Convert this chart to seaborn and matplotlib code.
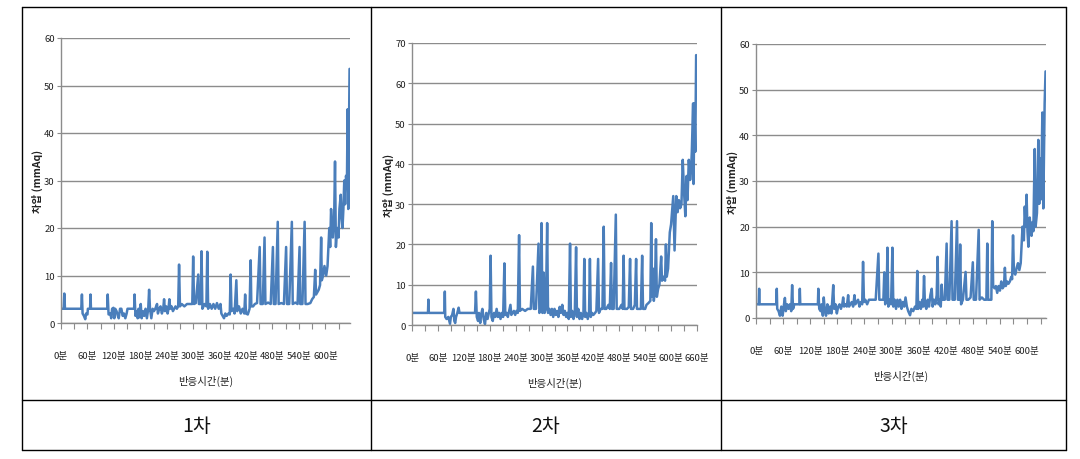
import matplotlib
matplotlib.use("Agg")
import matplotlib.pyplot as plt
import seaborn as sns
import pandas as pd
from matplotlib.lines import Line2D

# ---------------- data (minutes, differential pressure mmAq) ----------------
t1 = [0, 6, 7.5, 9, 46, 47.5, 49, 52, 55, 57, 60, 61, 66, 67, 68, 105, 106, 108, 112, 114,
      116, 119, 121, 123, 126, 129, 131, 134, 137, 140, 143, 146, 149, 151, 166, 167, 169, 172,
      174, 176, 178, 181, 183, 186, 189, 192, 195, 198, 200, 202, 205, 208, 211, 214, 218, 220,
      223, 226, 229, 232, 234, 236, 239, 242, 244, 246, 248, 251, 254, 257, 260, 263, 266, 268,
      270, 274, 280, 286, 292, 298, 300, 302, 306, 311.5, 313, 317, 319, 321, 326, 330, 332,
      334, 338, 342, 346, 350, 354, 358, 362, 364, 367, 370, 373, 376, 380, 383, 385, 387, 391,
      394, 398, 400, 404, 408, 412, 416, 418, 420, 424, 428, 430.6, 432, 436, 440, 445, 451,
      453, 458, 462, 464, 470, 476, 481, 483, 487, 492, 494, 500, 506, 511, 513, 518, 524, 526,
      532, 537, 541.5, 543, 548, 553, 555, 560, 566, 570, 574, 577, 579, 582, 585, 588, 590.5,
      592, 595, 598, 602, 605, 609, 611, 613, 617, 620, 622, 624, 626, 628, 630, 632, 635, 637,
      639, 641, 643, 645, 647, 649, 650.6, 652, 655]
v1 = [3, 3, 6.2, 3, 3, 6, 2, 1.5, 0.8, 2, 1.8, 3, 3, 6, 3, 3, 6, 1.8, 2, 1,
      3, 3.2, 1, 3, 2.5, 1.5, 1, 3, 3, 1.5, 2, 1, 2, 3, 3, 6, 1.5, 2.5,
      1, 3, 1.2, 4, 1, 2.5, 1.5, 3, 1, 3, 7, 3, 1, 3, 2.5, 3, 4, 2,
      3, 3.5, 2, 3, 5, 2.5, 3.5, 2, 3, 5, 3, 3.5, 2.5, 3, 3.5, 3, 3.5, 12.3,
      3.5, 4, 3.5, 4, 4, 4, 14, 4, 4.2, 10.2, 4, 4, 15.1, 3, 4, 3.5, 15,
      3, 4, 3, 4, 3, 4.2, 3, 4, 2, 1.5, 1, 2, 1.5, 2, 1.8, 10.2, 2.5, 3,
      2, 9, 2.5, 3.5, 2, 3, 2, 6, 2, 1.8, 3, 13.2, 3.5, 3.5, 4, 4.2, 16,
      4, 4, 18, 4, 4.3, 4, 16, 4, 4, 21.3, 4, 4.2, 4, 16, 4, 4, 21.3, 4,
      4.3, 4, 16, 4, 4, 21.3, 4, 4, 4.2, 5, 5.5, 11.2, 6, 6.5, 7, 8, 18,
      9, 10, 12, 10, 12, 20, 16, 24, 18, 22, 34, 16, 19, 20, 18, 24, 27, 22,
      20, 24, 30, 25, 31, 29, 45, 24, 53.5]

t2 = [0, 37, 38, 39, 75, 76, 77, 80, 84, 88, 90, 93, 96, 98, 100, 102, 105, 108, 110, 146,
      148, 150, 153, 155, 158, 160, 163, 166, 169, 172, 175, 178, 180, 182, 184, 187, 190, 193,
      196, 199, 202, 205, 208, 211, 214, 216, 219, 222, 225, 228, 230, 233, 236, 239, 242, 245,
      248, 250, 255, 262, 268, 275, 280, 282, 287, 293, 295, 298, 300, 302, 305, 307, 310, 313,
      315, 318, 321, 324, 327, 330, 333, 336, 339, 342, 345, 348, 351, 354, 357, 360, 363, 366,
      368, 371, 374, 377, 380, 382, 385, 388, 391, 394, 397, 399, 401, 404, 407, 410, 412, 414,
      417, 420, 424, 427, 431, 433, 437, 441, 444, 446, 450, 455, 458, 461, 463, 467, 472, 474,
      480, 485, 488, 490, 492, 498, 502, 505, 507, 512, 516, 519, 521, 526, 530, 533, 535, 540,
      543, 548, 552, 554, 556, 558, 560, 562, 565, 567, 570, 573, 577, 579, 583, 586, 588, 590,
      593, 597, 600, 605, 608, 612, 615, 618, 621, 624, 627, 630, 633, 636, 638, 641, 644, 646,
      648, 651, 652, 654, 656, 658]
v2 = [3, 3, 6.3, 3, 3, 8.3, 2, 1.5, 2, 0.3, 2, 2.5, 4, 1, 0.5, 2, 3, 4.3, 3, 3,
      8.3, 2, 1, 3, 0.5, 2.5, 4, 1.5, 0.2, 3, 1.5, 3, 4, 17.2, 2, 1, 3, 2,
      4, 2, 3, 1.5, 3, 2, 15.3, 2.5, 3, 2, 3.5, 5, 2.5, 3, 3.5, 2.5, 3.5, 3,
      22.3, 3.5, 4, 3.5, 4, 4, 14.5, 4, 4, 20.2, 3, 4, 25.3, 3, 13, 3, 4, 25.3,
      3, 4, 2.5, 4, 2, 4, 2.5, 3.5, 2, 4.5, 3, 5, 2.5, 3.5, 2, 3, 1.5, 20.2,
      2, 3.5, 1.5, 3, 19.3, 2, 4, 1.5, 3, 1.5, 3, 16.4, 2, 3, 1.5, 3, 16.4, 2,
      3, 2.5, 3, 3.5, 16.4, 3, 4, 4, 24.4, 4, 4, 5, 4, 15.4, 4, 4, 27.4, 4,
      4, 5, 4, 17.2, 4, 4, 4.5, 16.4, 4, 4, 5, 16.4, 4, 4, 4, 17.2, 4, 4,
      5, 5.5, 6, 25.3, 7, 14, 6, 8, 21.3, 7, 9, 10, 17, 11, 12, 11, 20, 12,
      14, 23, 25, 32, 18.5, 32, 28, 31, 29, 30, 41, 33, 27, 37, 31, 41, 36, 38,
      43, 55, 35, 55, 43, 67]

t3 = [0, 6, 7, 8, 45, 46, 47, 50, 53, 56, 59, 62, 64, 66, 69, 72, 75, 78, 80, 82,
      85, 96, 97, 98, 137, 138, 140, 143, 145, 148, 150, 152, 155, 158, 161, 164, 167, 171,
      173, 176, 179, 182, 185, 188, 191, 193, 195, 198, 201, 204, 206, 209, 212, 215, 218, 220,
      223, 226, 229, 232, 235, 237, 239, 242, 246, 250, 255, 260, 265, 271, 273, 278, 282, 284,
      286, 289, 291, 293, 296, 299, 302, 304, 307, 310, 313, 316, 319, 322, 325, 328, 331, 334,
      337, 341, 344, 348, 352, 355, 357, 359, 362, 365, 368, 370, 372, 374, 377, 380, 383, 386,
      389, 391, 394, 397, 400, 402, 404, 407, 409, 411, 413, 418, 422, 424, 428, 433, 435, 440,
      445, 447, 450, 452, 454, 458, 464, 466, 470, 475, 480, 482, 487, 493, 495, 500, 505, 510,
      512, 514, 518, 521, 523, 525, 528, 531, 534, 537, 540, 543, 546, 549, 551, 553, 556, 559,
      562, 565, 567, 569, 571, 574, 577, 580, 583, 586, 590, 593, 595, 597, 599, 601, 603, 606,
      608, 610, 612, 614, 617, 619, 622, 625, 627, 628, 631, 634, 636, 638, 639, 641]
v3 = [3, 3, 6.4, 3, 3, 6.4, 2, 1.5, 0.5, 2.5, 0.5, 3, 4.4, 1.5, 3, 2, 3, 1.5, 7.2, 2,
      3, 3, 6.4, 3, 3, 6.4, 2, 1.5, 3, 0.5, 4.5, 2, 0.5, 3, 1, 2.5, 1, 7.2,
      2, 3, 1, 2.5, 3, 2, 3, 4.5, 2.5, 3, 2.5, 5, 2.5, 3, 3.5, 2.5, 5, 3,
      3.5, 4, 2.5, 3.5, 3, 12.3, 3.5, 4, 3, 4, 4, 4, 4, 14.1, 4, 4, 4, 10,
      3, 4, 15.4, 2.5, 4, 3, 15.4, 2.5, 4, 2, 4, 2.5, 4, 2, 3.5, 2.5, 4.5, 2.5,
      1.5, 0.6, 2, 1.5, 2.5, 2, 10.3, 2, 3.5, 2, 4, 2.5, 9.2, 3, 2, 4, 2.5, 5,
      6.4, 2.5, 4, 3, 5, 13.4, 3, 4, 2.5, 7.3, 4, 4, 16.3, 4, 4, 21.2, 4, 4,
      21.2, 4, 4, 16.1, 3, 4, 10.1, 4, 4, 4.5, 12.2, 4, 4, 19.3, 4, 4.5, 4, 4,
      16.3, 4, 4, 4, 21.2, 7, 6.5, 7, 5.5, 7, 6, 8, 6.5, 7, 11, 7, 8, 7.5,
      8, 9, 8.5, 18.1, 10, 9.5, 11, 12, 10.5, 12, 20, 17, 24.4, 20, 27, 19, 15.6, 22,
      19, 18, 21, 19, 37, 20, 23, 39, 25, 35, 26, 45, 24, 40, 47, 54]

panel_labels = ["1차", "2차", "3차"]
ymax = [60, 70, 60]
xmax = [656, 660, 642]
tick_minutes = [0, 60, 120, 180, 240, 300, 360, 420, 480, 540, 600, 660]
ylabel = "차압 (mmAq)"
xlabel = "반응시간(분)"

# ---------------- style ----------------
sns.set_theme(style="white")
plt.rcParams['font.family'] = ['Noto Sans CJK KR', 'DejaVu Sans']
LINE = "#4a7ebb"
GRID = "#8c8c8c"

fig = plt.figure(figsize=(10.8, 4.6), dpi=100)
fig.patch.set_facecolor("white")

W, H = 1080, 460
boxes = [(61, 350, 39, 324), (412, 697, 44, 326), (756, 1046, 45, 319)]
series = [(t1, v1), (t2, v2), (t3, v3)]

for i, ((x0, x1, ytop, ybot), (tt, vv)) in enumerate(zip(boxes, series)):
    ax = fig.add_axes([x0 / W, 1 - ybot / H, (x1 - x0) / W, (ybot - ytop) / H])
    df = pd.DataFrame({"t": tt, "v": vv})
    sns.lineplot(data=df, x="t", y="v", ax=ax, color=LINE, linewidth=1.8,
                 estimator=None, sort=True)
    ax.set_xlim(0, xmax[i])
    ax.set_ylim(0, ymax[i])
    ax.set_yticks(range(0, ymax[i] + 1, 10))
    ax.yaxis.grid(True, color=GRID, linewidth=1.0)
    ax.xaxis.grid(False)
    ax.set_axisbelow(True)
    for s in ["top", "right"]:
        ax.spines[s].set_visible(False)
    for s in ["left", "bottom"]:
        ax.spines[s].set_color(GRID)
        ax.spines[s].set_linewidth(1.0)
    ticks = [m for m in tick_minutes if m <= xmax[i]]
    ax.set_xticks(ticks)
    ax.set_xticklabels([f"{m}분" for m in ticks], fontsize=6.8, color="#222222")
    ax.set_xticks(range(30, int(xmax[i]) + 1, 60), minor=True)
    ax.tick_params(axis="x", which="both", direction="out", length=4, width=0.8,
                   color=GRID, pad=16, bottom=True)
    ax.tick_params(axis="y", direction="out", length=3, width=0.8, color=GRID,
                   labelsize=6.8, labelcolor="#222222", pad=1.5, left=True)
    ax.set_xlabel(xlabel, fontsize=7.5, color="#222222", labelpad=11)
    ax.set_ylabel(ylabel, fontsize=7.5, fontweight="bold", color="#222222", labelpad=1)

# ---------------- table frame ----------------
xs = [22, 371, 721, 1066]
y_top, y_mid, y_bot = 8, 401, 451
for x in xs:
    fig.add_artist(Line2D([x / W, x / W], [1 - y_top / H, 1 - y_bot / H],
                          color="black", linewidth=1.0, transform=fig.transFigure))
for y in [y_top, y_mid, y_bot]:
    fig.add_artist(Line2D([xs[0] / W, xs[-1] / W], [1 - y / H, 1 - y / H],
                          color="black", linewidth=1.0, transform=fig.transFigure))
for k, lab in enumerate(panel_labels):
    cx = (xs[k] + xs[k + 1]) / 2
    fig.text(cx / W, 1 - 427 / H, lab, ha="center", va="center", fontsize=14,
             fontweight="light", color="#111111")

fig.savefig("out.png", dpi=100, facecolor="white")
